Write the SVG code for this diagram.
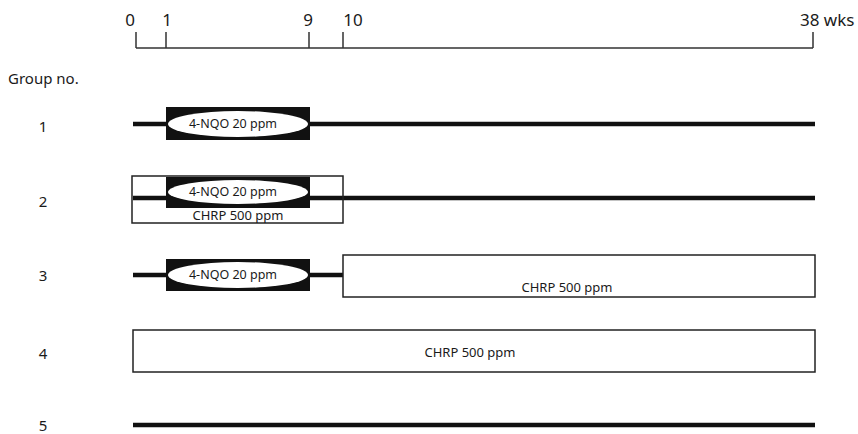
<svg xmlns="http://www.w3.org/2000/svg" width="858" height="434" viewBox="0 0 858 434">
<style>
text{font-family:"Noto Sans","DejaVu Sans",sans-serif;fill:#1a1a1a}
.ax{stroke:#333;stroke-width:1.5;fill:none}
.bar{stroke:#111;stroke-width:4.5;fill:none}
.blk{fill:#111}
.ell{fill:#fff}
.box{fill:#fff;stroke:#222;stroke-width:1.5}
.lbl{font-size:13px;text-anchor:middle}
.nq{font-size:12.5px;text-anchor:middle}
.num{font-size:15px;text-anchor:middle}
.tk{font-size:17px}
</style>
<rect width="858" height="434" fill="#fff"/>
<g id="axis">
<path class="ax" d="M136,48H813M136,32V48M166,32V48M309,32V48M343,32V48M813,32V48"/>
<text class="tk" x="130" y="26" text-anchor="middle">0</text>
<text class="tk" x="167" y="26" text-anchor="middle">1</text>
<text class="tk" x="308" y="26" text-anchor="middle">9</text>
<text class="tk" x="353" y="26" text-anchor="middle">10</text>
<text class="tk" x="800" y="26">38 wks</text>
</g>
<g id="labels">
<text x="8" y="84" font-size="15">Group no.</text>
<text class="num" x="43" y="132">1</text>
<text class="num" x="43" y="207">2</text>
<text class="num" x="43" y="281">3</text>
<text class="num" x="43" y="359">4</text>
<text class="num" x="43" y="431">5</text>
</g>
<g id="connectors">
<path class="bar" d="M133,124H815"/>
<path class="bar" d="M133,198H815"/>
<path class="bar" d="M133,275H343"/>
<path class="bar" d="M133,425H815"/>
</g>
<g id="group2-chrp">
<rect class="box" x="132" y="176" width="211" height="47" fill-opacity="0"/>
<text class="lbl" x="238" y="220">CHRP 500 ppm</text>
</g>
<g id="group1-nqo">
<rect class="blk" x="166" y="107" width="144" height="33"/>
<ellipse class="ell" cx="238" cy="124" rx="70" ry="13"/>
<text class="nq" x="233" y="128">4-NQO 20 ppm</text>
</g>
<g id="group2-nqo">
<rect class="blk" x="166" y="177" width="144" height="31"/>
<ellipse class="ell" cx="238" cy="192" rx="70" ry="12"/>
<text class="nq" x="233" y="196">4-NQO 20 ppm</text>
</g>
<g id="group3-nqo">
<rect class="blk" x="166" y="259" width="144" height="32"/>
<ellipse class="ell" cx="238" cy="275" rx="70" ry="13"/>
<text class="nq" x="233" y="279">4-NQO 20 ppm</text>
</g>
<g id="group3-chrp">
<rect class="box" x="343" y="255" width="472" height="42"/>
<text class="lbl" x="567" y="292">CHRP 500 ppm</text>
</g>
<g id="group4-chrp">
<rect class="box" x="133" y="330" width="682" height="42"/>
<text class="lbl" x="470" y="357">CHRP 500 ppm</text>
</g>
</svg>
